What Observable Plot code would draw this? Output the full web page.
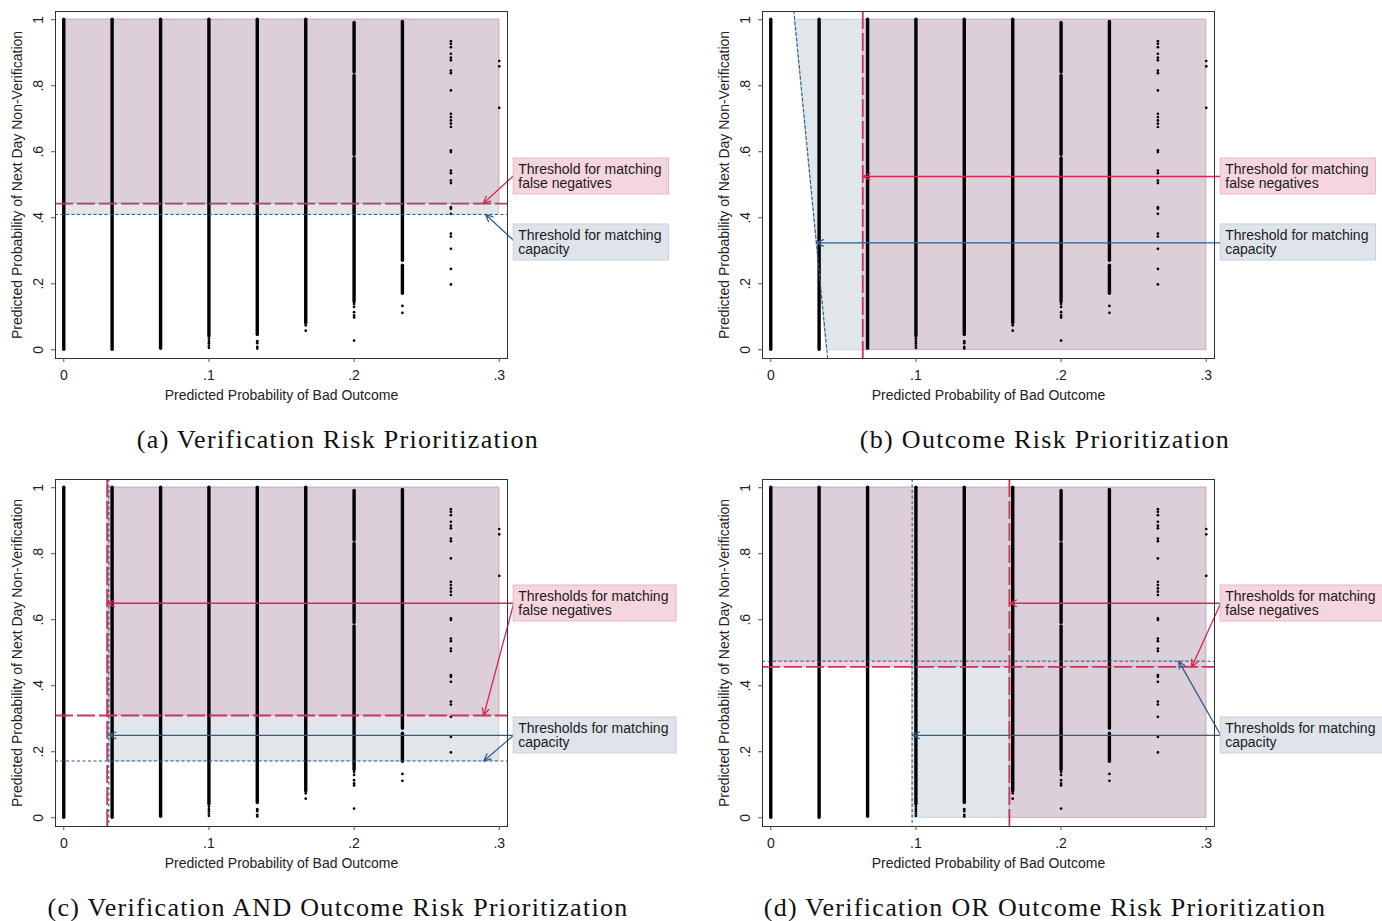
<!DOCTYPE html>
<html>
<head>
<meta charset="utf-8">
<script src="https://cdn.jsdelivr.net/npm/d3@7"></script>
<script src="https://cdn.jsdelivr.net/npm/@observablehq/plot@0.6"></script>
<style>
  html, body { margin: 0; padding: 0; background: #fff; }
  #root { position: relative; width: 1382px; height: 921px; overflow: hidden; background: #fff; }
  .panel { position: absolute; width: 676px; height: 453px; }
  .panel svg { max-width: none !important; overflow: visible; }
  .caption { position: absolute; left: 0; width: 676px; top: 428px; text-align: center;
    font-family: "Liberation Serif", "Times New Roman", serif; font-size: 26px; line-height: 24px;
    letter-spacing: 1.3px; color: #111; white-space: nowrap; }
</style>
</head>
<body>
<div id="root"></div>
<script>
// ---------------- data ----------------
// dense columns of points: x value, lowest and highest y of the dense run
const columnX    = [0,    0.0333, 0.0667, 0.1,  0.1333, 0.1667, 0.2,   0.2,  0.2,  0.2333, 0.2333];
const columnLow  = [0,    0,      0.003,  0.04, 0.045,  0.08,   0.145, 0.59, 0.84, 0.27,   0.17];
const columnHigh = [1,    1,      1,      1,    1,      1,      0.58,  0.83, 0.99, 0.993,  0.255];

// isolated points
const dotX = [
  0.1, 0.1, 0.1, 0.1, 0.1,
  0.1333, 0.1333, 0.1333, 0.1333,
  0.1667, 0.1667,
  0.2, 0.2, 0.2, 0.2, 0.2, 0.2,
  0.2333, 0.2333,
  0.2667, 0.2667, 0.2667, 0.2667, 0.2667, 0.2667, 0.2667, 0.2667, 0.2667, 0.2667,
  0.2667, 0.2667, 0.2667, 0.2667, 0.2667, 0.2667, 0.2667, 0.2667, 0.2667, 0.2667,
  0.2667, 0.2667, 0.2667, 0.2667, 0.2667, 0.2667, 0.2667, 0.2667,
  0.3, 0.3, 0.3
];
const dotY = [
  0.034, 0.027, 0.02, 0.013, 0.006,
  0.026, 0.02, 0.009, 0.004,
  0.074, 0.058,
  0.139, 0.13, 0.114, 0.104, 0.098, 0.028,
  0.133, 0.112,
  0.935, 0.927, 0.917, 0.897, 0.885, 0.877, 0.846, 0.838, 0.786, 0.715,
  0.705, 0.695, 0.685, 0.675, 0.604, 0.599, 0.543, 0.535, 0.513, 0.505,
  0.432, 0.427, 0.412, 0.352, 0.343, 0.306, 0.245, 0.198,
  0.875, 0.859, 0.733
];

// axes
const xTicks = [0, 0.1, 0.2, 0.3];
const yTicks = [0, 0.2, 0.4, 0.6, 0.8, 1];
const xTitle = "Predicted Probability of Bad Outcome";
const yTitle = "Predicted Probability of Next Day Non-Verification";

// thresholds per panel
const aRedY = 0.443, aBlueY = 0.41;
const bRedX = 0.0634, bSlantX = [0.0386, 0.0165], bSlantY = [0, 1];
const cRedX = 0.0299, cBlueX = 0.031, cRedY = 0.31, cBlueY = 0.172;
const dRedX = 0.1644, dBlueX = 0.0974, dRedY = 0.457, dBlueY = 0.4745;

// captions
const captions = [
  "(a) Verification Risk Prioritization",
  "(b) Outcome Risk Prioritization",
  "(c) Verification AND Outcome Risk Prioritization",
  "(d) Verification OR Outcome Risk Prioritization"
];
const labelsSingle = ["Threshold for matching\nfalse negatives", "Threshold for matching\ncapacity"];
const labelsPlural = ["Thresholds for matching\nfalse negatives", "Thresholds for matching\ncapacity"];

// annotation boxes (data units): [x1, x2, yTop, yBottom]
const boxTopRow = { pink: [0.31, 0.417, 0.5797, 0.4706], blue: [0.31, 0.417, 0.3797, 0.2706] };
const boxBottomRow = { pink: [0.31, 0.4222, 0.7039, 0.5948], blue: [0.31, 0.4222, 0.3039, 0.1948] };

// arrows per panel: [x1, y1, x2, y2, colour key]
const arrowsA = [[0.31, 0.528, 0.289, aRedY, "red"], [0.31, 0.331, 0.2906, aBlueY, "blue"]];
const arrowsB = [[0.31, 0.525, bRedX, 0.525, "red"], [0.31, 0.324, 0.0314, 0.324, "blue"]];
const arrowsC = [[0.31, 0.65, cRedX, 0.65, "red"], [0.31, 0.65, 0.2893, cRedY, "red"],
                 [0.31, 0.25, cBlueX, 0.25, "blue"], [0.31, 0.25, 0.2893, cBlueY, "blue"]];
const arrowsD = [[0.31, 0.65, dRedX, 0.65, "red"], [0.31, 0.65, 0.290, dRedY, "red"],
                 [0.31, 0.25, dBlueX, 0.25, "blue"], [0.31, 0.25, 0.281, dBlueY, "blue"]];

// ---------------- style ----------------
const RED = "#c8385e", NAVY = "#2b5c8a";
const MAUVE = "#dccfd9", MAUVE_EDGE = "#c9b3c4";
const BLUEF = "#e1e6eb", BLUE_EDGE = "#c8d1db";
const PINKF = "#f6d6de", PINK_EDGE = "#ebbac7";
const BOX_PINK = "#f6d6de", BOX_PINK_EDGE = "#eab8c5";
const BOX_BLUE = "#dfe4ea", BOX_BLUE_EDGE = "#c6d0dc";
const X_DOMAIN = [-0.0057, 0.3057], Y_DOMAIN = [-0.0264, 1.025];
const XLO = 0, XHI = 0.3, YLO = 0, YHI = 1;

const columns = columnX.map((x, i) => ({x, lo: columnLow[i], hi: columnHigh[i]}));
const dots = dotX.map((x, i) => ({x, y: dotY[i]}));

const fmt = d => d === 0 ? "0" : d === 1 ? "1" : String(d).replace(/^0/, "");

function andRegion(tx, ty) { return [{x1: tx, x2: XHI, y1: ty, y2: YHI}]; }
function orRegion(tx, ty) { return [{x1: XLO, x2: XHI, y1: ty, y2: YHI}, {x1: tx, x2: XHI, y1: YLO, y2: ty}]; }
function intersect(A, B) {
  const out = [];
  for (const a of A) for (const b of B) {
    const r = {x1: Math.max(a.x1, b.x1), x2: Math.min(a.x2, b.x2), y1: Math.max(a.y1, b.y1), y2: Math.min(a.y2, b.y2)};
    if (r.x2 > r.x1 && r.y2 > r.y1) out.push(r);
  }
  return out;
}

function boxes(row, labels) {
  return [
    {x1: row.pink[0], x2: row.pink[1], y1: row.pink[3], y2: row.pink[2], label: labels[0], fill: BOX_PINK, stroke: BOX_PINK_EDGE},
    {x1: row.blue[0], x2: row.blue[1], y1: row.blue[3], y2: row.blue[2], label: labels[1], fill: BOX_BLUE, stroke: BOX_BLUE_EDGE}
  ];
}

function makePanel(cfg) {
  const marks = [];
  const rect = (data, fill, stroke) => Plot.rect(data, {x1: "x1", x2: "x2", y1: "y1", y2: "y2", fill, stroke, strokeWidth: 1});
  if (cfg.blueArea) marks.push(Plot.areaX(cfg.blueArea, {y: "y", x1: "x1", x2: "x2", fill: BLUEF, stroke: BLUE_EDGE, strokeWidth: 1}));
  if (cfg.blue) marks.push(rect(cfg.blue, BLUEF, BLUE_EDGE));
  if (cfg.pink) marks.push(rect(cfg.pink, PINKF, PINK_EDGE));
  marks.push(rect(cfg.both, MAUVE, MAUVE_EDGE));

  marks.push(Plot.ruleX(columns, {x: "x", y1: "lo", y2: "hi", stroke: "#000", strokeWidth: 3.4, strokeLinecap: "round"}));
  marks.push(Plot.dot(dots, {x: "x", y: "y", r: 1.35, fill: "#000", stroke: null}));

  const redDash = {stroke: RED, strokeWidth: 1.8, strokeDasharray: "18,4"};
  const blueDot = {stroke: NAVY, strokeWidth: 1.1, strokeDasharray: "3,2.5"};
  if (cfg.blueYs) marks.push(Plot.ruleY(cfg.blueYs, blueDot));
  if (cfg.blueXs) marks.push(Plot.ruleX(cfg.blueXs, blueDot));
  if (cfg.blueLine) marks.push(Plot.line(cfg.blueLine, {x: "x", y: "y", ...blueDot}));
  if (cfg.redYs) marks.push(Plot.ruleY(cfg.redYs, redDash));
  if (cfg.redXs) marks.push(Plot.ruleX(cfg.redXs, redDash));

  const arrows = cfg.arrows.map(a => ({x1: a[0], y1: a[1], x2: a[2], y2: a[3], c: a[4] === "red" ? "#d22a55" : "#2e5f8e"}));
  marks.push(Plot.arrow(arrows, {x1: "x1", y1: "y1", x2: "x2", y2: "y2", stroke: d => d.c, strokeWidth: 1.3, headLength: 9, headAngle: 50, bend: 0}));

  marks.push(Plot.frame({stroke: "#333", strokeWidth: 1}));
  marks.push(Plot.axisX(xTicks, {tickFormat: fmt, tickSize: 4, tickPadding: 8, stroke: "#555", fill: "#222", label: null}));
  marks.push(Plot.axisY(yTicks, {tickFormat: fmt, tickSize: 4, tickPadding: 12.7, tickRotate: -90, textAnchor: "middle", lineAnchor: "middle", stroke: "#555", fill: "#222", label: null}));
  marks.push(Plot.text([xTitle], {text: d => d, frameAnchor: "bottom", dy: 37.5, lineAnchor: "middle", fill: "#222"}));
  marks.push(Plot.text([yTitle], {text: d => d, frameAnchor: "left", dx: -38, rotate: -90, textAnchor: "middle", lineAnchor: "middle", fill: "#222"}));

  marks.push(Plot.rect(cfg.boxes, {x1: "x1", x2: "x2", y1: "y1", y2: "y2", fill: d => d.fill, stroke: d => d.stroke, strokeWidth: 1}));
  marks.push(Plot.text(cfg.boxes, {x: "x1", y: "y2", text: "label", textAnchor: "start", lineAnchor: "top", dx: 4.5, dy: 6.5, lineHeight: 0.95, fill: "#1a1a1a"}));

  return Plot.plot({
    width: 676, height: 410,
    marginLeft: 55, marginRight: 169, marginTop: 11, marginBottom: 52,
    x: {domain: X_DOMAIN}, y: {domain: Y_DOMAIN},
    style: {fontFamily: "'Liberation Sans', Arial, Helvetica, sans-serif", fontSize: "14px", background: "transparent", overflow: "visible"},
    marks
  });
}

// panel (a)
const aBlue = andRegion(XLO, aBlueY), aPink = andRegion(XLO, aRedY);
// panel (b)
const bArea = bSlantY.map((y, i) => ({y, x1: bSlantX[i], x2: XHI}));
const slope = (bSlantX[1] - bSlantX[0]) / (bSlantY[1] - bSlantY[0]);
const bLine = Y_DOMAIN.map(y => ({y, x: bSlantX[0] + slope * (y - bSlantY[0])}));
const bPink = andRegion(bRedX, YLO);
// panel (c)
const cBlue = andRegion(cBlueX, cBlueY), cPink = andRegion(cRedX, cRedY);
// panel (d)
const dBlue = orRegion(dBlueX, dBlueY), dPink = orRegion(dRedX, dRedY);

const configs = [
  {left: 0, top: 0, blue: aBlue, pink: aPink, both: intersect(aBlue, aPink), blueYs: [aBlueY], redYs: [aRedY], arrows: arrowsA, boxes: boxes(boxTopRow, labelsSingle)},
  {left: 707, top: 0, blueArea: bArea, both: bPink, blueLine: bLine, redXs: [bRedX], arrows: arrowsB, boxes: boxes(boxTopRow, labelsSingle)},
  {left: 0, top: 468, blue: cBlue, pink: cPink, both: intersect(cBlue, cPink), blueXs: [cBlueX], blueYs: [cBlueY], redXs: [cRedX], redYs: [cRedY], arrows: arrowsC, boxes: boxes(boxBottomRow, labelsPlural)},
  {left: 707, top: 468, blue: dBlue, pink: dPink, both: intersect(dBlue, dPink), blueXs: [dBlueX], blueYs: [dBlueY], redXs: [dRedX], redYs: [dRedY], arrows: arrowsD, boxes: boxes(boxBottomRow, labelsPlural)}
];

const root = document.getElementById("root");
configs.forEach((cfg, i) => {
  const div = document.createElement("div");
  div.className = "panel";
  div.style.left = cfg.left + "px";
  div.style.top = cfg.top + "px";
  div.appendChild(makePanel(cfg));
  const cap = document.createElement("div");
  cap.className = "caption";
  cap.textContent = captions[i];
  div.appendChild(cap);
  root.appendChild(div);
});
</script>
</body>
</html>
